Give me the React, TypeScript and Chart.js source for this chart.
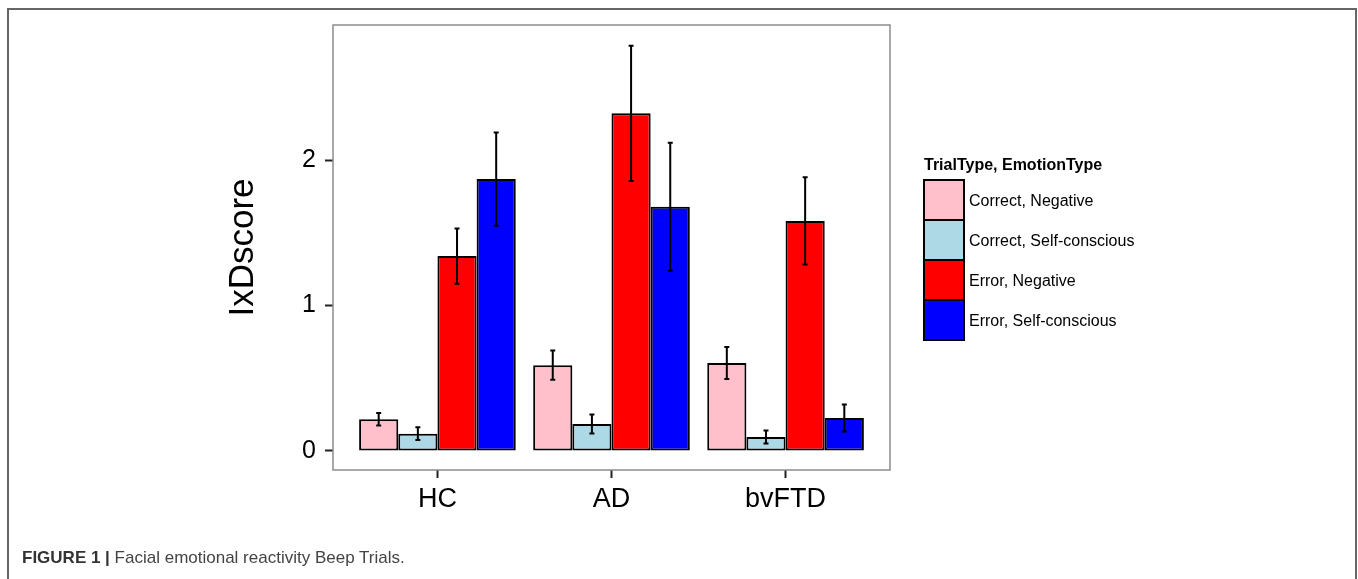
import React, { useEffect, useRef } from "react";
import { Chart, registerables } from "chart.js";

Chart.register(...registerables);

const categories = ["HC", "AD", "bvFTD"];
const seriesLabels = [
  "Correct, Negative",
  "Correct, Self-conscious",
  "Error, Negative",
  "Error, Self-conscious",
];
const seriesColors = ["#FFC0CB", "#ADD8E6", "#FF0000", "#0000FF"];

const correctNegative = [0.218, 0.59, 0.605];
const correctSelfConscious = [0.119, 0.186, 0.096];
const errorNegative = [1.34, 2.321, 1.581];
const errorSelfConscious = [1.869, 1.679, 0.227];

const correctNegativeErr = [0.043, 0.1, 0.11];
const correctSelfConsciousErr = [0.044, 0.065, 0.045];
const errorNegativeErr = [0.19, 0.465, 0.3];
const errorSelfConsciousErr = [0.32, 0.44, 0.093];

const yTickValues = [0, 1, 2];
const yAxisTitle = "IxDscore";
const legendTitle = "TrialType, EmotionType";
const captionBold = "FIGURE 1 |";
const captionText = " Facial emotional reactivity Beep Trials.";

const FONT = '"Liberation Sans", Arial, Helvetica, sans-serif';

const seriesValues = [correctNegative, correctSelfConscious, errorNegative, errorSelfConscious];
const seriesErrors = [correctNegativeErr, correctSelfConsciousErr, errorNegativeErr, errorSelfConsciousErr];

const errorBarPlugin = {
  id: "errorBars",
  beforeDatasetsDraw(chart: any) {
    const { ctx, chartArea } = chart;
    ctx.save();
    ctx.strokeStyle = "#8c8c8c";
    ctx.lineWidth = 1.5;
    ctx.strokeRect(chartArea.left, chartArea.top, chartArea.right - chartArea.left, chartArea.bottom - chartArea.top);
    ctx.restore();
  },
  afterDatasetsDraw(chart: any) {
    const { ctx } = chart;
    const yScale = chart.scales.y;
    ctx.save();
    ctx.strokeStyle = "#000";
    ctx.lineWidth = 2;
    chart.data.datasets.forEach((ds: any, di: number) => {
      const meta = chart.getDatasetMeta(di);
      meta.data.forEach((bar: any, i: number) => {
        const v = seriesValues[di][i];
        const e = seriesErrors[di][i];
        const yTop = yScale.getPixelForValue(v + e);
        const yBot = yScale.getPixelForValue(v - e);
        const x = bar.x;
        const cap = 2.5;
        ctx.beginPath();
        ctx.moveTo(x, yTop);
        ctx.lineTo(x, yBot);
        ctx.moveTo(x - cap, yTop);
        ctx.lineTo(x + cap, yTop);
        ctx.moveTo(x - cap, yBot);
        ctx.lineTo(x + cap, yBot);
        ctx.stroke();
      });
    });
    ctx.restore();
  },
};

export default function App() {
  const canvasRef = useRef<HTMLCanvasElement>(null);

  useEffect(() => {
    if (!canvasRef.current) return;
    const datasets = seriesLabels.map((label, si) => ({
      label,
      data: categories.map((_, ci) => ({ x: ci + 1, y: seriesValues[si][ci] })),
      backgroundColor: seriesColors[si],
      borderColor: "#000",
      borderWidth: 2,
      borderSkipped: false as const,
      categoryPercentage: 0.9,
      barPercentage: 1.0,
    }));
    const chart = new Chart(canvasRef.current, {
      type: "bar",
      data: { datasets },
      options: {
        animation: false,
        responsive: false,
        maintainAspectRatio: false,
        layout: { padding: { left: 200, right: 468, top: 25, bottom: 49 } },
        plugins: {
          legend: { display: false },
          tooltip: { enabled: false },
        },
        scales: {
          x: {
            type: "linear",
            min: 0.4,
            max: 3.6,
            offset: false,
            afterBuildTicks: (scale: any) => {
              scale.ticks = categories.map((_, i) => ({ value: i + 1 }));
            },
            afterFit: (scale: any) => {
              scale.height = 60;
            },
            ticks: {
              autoSkip: false,
              maxRotation: 0,
              padding: 5,
              color: "#000",
              font: { family: FONT, size: 27 },
              callback: (v: any) => categories[Math.round(Number(v)) - 1] ?? "",
            },
            grid: {
              display: true,
              offset: false,
              drawOnChartArea: false,
              drawTicks: true,
              tickLength: 8,
              tickColor: "#222",
              tickWidth: 2,
            },
            border: { display: false },
          },
          y: {
            type: "linear",
            min: -0.1306,
            max: 2.928,
            afterBuildTicks: (scale: any) => {
              scale.ticks = yTickValues.map((v) => ({ value: v }));
            },
            afterFit: (scale: any) => {
              scale.width = 133;
            },
            ticks: {
              padding: 9,
              color: "#000",
              font: { family: FONT, size: 25 },
              callback: (v: any) => String(v),
            },
            grid: {
              display: true,
              drawOnChartArea: false,
              drawTicks: true,
              tickLength: 8,
              tickColor: "#222",
              tickWidth: 2,
            },
            border: { display: false },
            title: {
              display: true,
              text: yAxisTitle,
              color: "#000",
              font: { family: FONT, size: 35 },
              padding: { top: 22, bottom: 0 },
            },
          },
        },
      },
      plugins: [errorBarPlugin],
    } as any);
    return () => chart.destroy();
  }, []);

  return (
    <div
      style={{
        position: "fixed",
        left: 0,
        top: 0,
        width: 1358,
        height: 579,
        background: "#fff",
        overflow: "hidden",
        fontFamily: FONT,
      }}
    >
      <div
        style={{
          position: "absolute",
          left: 7,
          top: 8,
          width: 1350,
          height: 620,
          border: "2px solid #666",
          boxSizing: "border-box",
        }}
      />
      <canvas
        ref={canvasRef}
        width={1358}
        height={579}
        style={{ position: "absolute", left: 0, top: 0, width: 1358, height: 579 }}
      />
      <div
        style={{
          position: "absolute",
          left: 924,
          top: 155,
          fontSize: 16,
          lineHeight: "20px",
          fontWeight: "bold",
          color: "#000",
          whiteSpace: "nowrap",
        }}
      >
        {legendTitle}
      </div>
      {seriesLabels.map((label, i) => (
        <React.Fragment key={label}>
          <div
            style={{
              position: "absolute",
              left: 923,
              top: 179 + i * 40,
              width: 42,
              height: 42,
              boxSizing: "border-box",
              border: "2px solid #000",
              background: seriesColors[i],
            }}
          />
          <div
            style={{
              position: "absolute",
              left: 969,
              top: 190 + i * 40,
              fontSize: 16,
              lineHeight: "22px",
              color: "#000",
              whiteSpace: "nowrap",
            }}
          >
            {label}
          </div>
        </React.Fragment>
      ))}
      <div
        style={{
          position: "absolute",
          left: 22,
          top: 548,
          fontSize: 17,
          lineHeight: "20px",
          color: "#444",
          whiteSpace: "nowrap",
        }}
      >
        <span style={{ fontWeight: "bold", color: "#333" }}>{captionBold}</span>
        {captionText}
      </div>
    </div>
  );
}
